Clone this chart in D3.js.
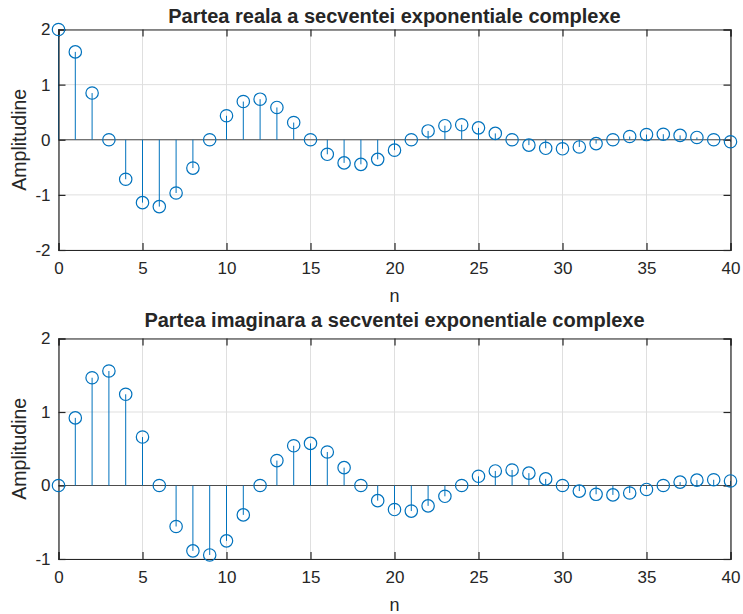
<!DOCTYPE html>
<html>
<head>
<meta charset="utf-8">
<script src="https://cdn.jsdelivr.net/npm/d3@7"></script>
<style>
  body { margin: 0; background: #fff; }
  text { font-family: "Liberation Sans", Arial, sans-serif; fill: #262626; }
</style>
</head>
<body>
<script>
// indicii n
var n = d3.range(0, 41);

// partea reala
var realValues = [2, 1.594, 0.847, 0, -0.717, -1.141, -1.213, -0.966, -0.514, 0,
  0.435, 0.693, 0.736, 0.586, 0.312, 0, -0.264, -0.420, -0.446, -0.356,
  -0.189, 0, 0.160, 0.255, 0.271, 0.216, 0.115, 0, -0.097, -0.155,
  -0.164, -0.131, -0.070, 0, 0.059, 0.094, 0.100, 0.079, 0.042, 0, -0.036];

// partea imaginara
var imagValues = [0, 0.920, 1.466, 1.558, 1.241, 0.659, 0, -0.558, -0.889, -0.945,
  -0.753, -0.400, 0, 0.339, 0.540, 0.573, 0.456, 0.243, 0, -0.206,
  -0.327, -0.348, -0.277, -0.147, 0, 0.125, 0.198, 0.211, 0.168, 0.090,
  0, -0.076, -0.120, -0.128, -0.102, -0.054, 0, 0.046, 0.073, 0.078, 0.062];

var xTicks = [0, 5, 10, 15, 20, 25, 30, 35, 40];
var yTicksTop = [-2, -1, 0, 1, 2];
var yTicksBottom = [-1, 0, 1, 2];

var W = 743, H = 614;
var svg = d3.select("body").append("svg").attr("width", W).attr("height", H);

var stemColor = "#0072BD", axisColor = "#262626";

function stemPlot(opt) {
    var x = d3.scaleLinear().domain([0, 40]).range([58.5, 730.5]);
    var y = d3.scaleLinear().domain(opt.domain).range([opt.bottom, opt.top]);
    var g = svg.append("g");

    // grila
    g.selectAll("line.gx").data(xTicks).enter().append("line")
        .attr("x1", d => x(d)).attr("x2", d => x(d))
        .attr("y1", opt.top).attr("y2", opt.bottom)
        .attr("stroke", "#dfdfdf").attr("stroke-width", 1);
    g.selectAll("line.gy").data(opt.yTicks).enter().append("line")
        .attr("x1", x.range()[0]).attr("x2", x.range()[1])
        .attr("y1", d => y(d)).attr("y2", d => y(d))
        .attr("stroke", "#dfdfdf").attr("stroke-width", 1);

    // linia de baza
    g.append("line")
        .attr("x1", x.range()[0]).attr("x2", x.range()[1])
        .attr("y1", y(0)).attr("y2", y(0))
        .attr("stroke", "#4d4d4d").attr("stroke-width", 1);

    // stems
    g.selectAll("line.stem").data(opt.values).enter().append("line")
        .attr("x1", (d, i) => x(n[i])).attr("x2", (d, i) => x(n[i]))
        .attr("y1", y(0)).attr("y2", d => y(d))
        .attr("stroke", stemColor).attr("stroke-width", 1);

    // axe
    var fmt = d => String(d);
    var xAxis = d3.axisBottom(x).tickValues(xTicks).tickSize(-7).tickPadding(12).tickFormat(fmt);
    var xAxisTop = d3.axisTop(x).tickValues(xTicks).tickSize(-7).tickFormat("");
    var yAxis = d3.axisLeft(y).tickValues(opt.yTicks).tickSize(-7).tickPadding(8).tickFormat(fmt);
    var yAxisRight = d3.axisRight(y).tickValues(opt.yTicks).tickSize(-7).tickFormat("");

    [[xAxis, "translate(0," + opt.bottom + ")"], [xAxisTop, "translate(0," + opt.top + ")"],
     [yAxis, "translate(" + x.range()[0] + ",0)"], [yAxisRight, "translate(" + x.range()[1] + ",0)"]]
        .forEach(function (a) {
            var ax = g.append("g").attr("transform", a[1]).call(a[0]);
            ax.select(".domain").attr("stroke", axisColor).attr("stroke-width", 1.2);
            ax.selectAll(".tick line").attr("stroke", axisColor).attr("stroke-width", 1.2);
            ax.selectAll(".tick text").style("font-size", "17px").attr("fill", axisColor)
                .style("font-family", "'Liberation Sans', Arial, sans-serif");
        });

    // markere
    g.selectAll("circle").data(opt.values).enter().append("circle")
        .attr("cx", (d, i) => x(n[i])).attr("cy", d => y(d))
        .attr("r", 6.2).attr("fill", "none")
        .attr("stroke", stemColor).attr("stroke-width", 1.2);

    // titlu si etichete
    g.append("text").attr("x", (x.range()[0] + x.range()[1]) / 2).attr("y", opt.titleY)
        .attr("text-anchor", "middle").style("font-size", "20px").style("font-weight", "bold")
        .attr("fill", "#000").text(opt.title);
    g.append("text").attr("x", (x.range()[0] + x.range()[1]) / 2).attr("y", opt.bottom + 51.5)
        .attr("text-anchor", "middle").style("font-size", "18px").text("n");
    g.append("text")
        .attr("transform", "translate(26," + (opt.top + opt.bottom) / 2 + ") rotate(-90)")
        .attr("text-anchor", "middle").style("font-size", "19.5px").text("Amplitudine");
}

stemPlot({
    values: realValues, domain: [-2, 2], top: 29.5, bottom: 250, titleY: 22.5,
    yTicks: yTicksTop, title: "Partea reala a secventei exponentiale complexe"
});
stemPlot({
    values: imagValues, domain: [-1, 2], top: 338.5, bottom: 559, titleY: 326.5,
    yTicks: yTicksBottom, title: "Partea imaginara a secventei exponentiale complexe"
});
</script>
</body>
</html>
